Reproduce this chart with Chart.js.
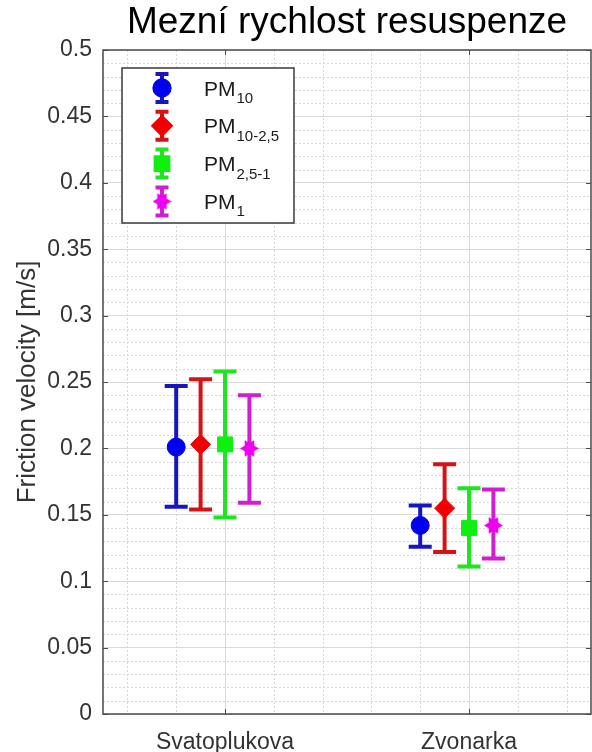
<!DOCTYPE html>
<html>
<head>
<meta charset="utf-8">
<script src="https://cdn.jsdelivr.net/npm/chart.js@4/dist/chart.umd.min.js"></script>
<style>
  html, body { margin: 0; padding: 0; background: #fff; overflow: hidden; }
  #wrap { width: 592px; height: 752px; position: relative; }
</style>
</head>
<body>
<div id="wrap"><canvas id="chart"></canvas></div>
<script>
// Measuring sites along the x axis
const sites = ['Svatoplukova', 'Zvonarka'];

// Particle fractions, legend shows "PM" with these as subscripts
const fractions = ['10', '10-2,5', '2,5-1', '1'];

// Threshold friction velocity [m/s]: mean and error bar ends per site
const pm10Mean    = [0.201, 0.142];
const pm10Low     = [0.156, 0.126];
const pm10High    = [0.247, 0.157];

const pm10_25Mean = [0.203, 0.155];
const pm10_25Low  = [0.154, 0.122];
const pm10_25High = [0.252, 0.188];

const pm25_1Mean  = [0.203, 0.140];
const pm25_1Low   = [0.148, 0.111];
const pm25_1High  = [0.258, 0.170];

const pm1Mean     = [0.200, 0.142];
const pm1Low      = [0.159, 0.117];
const pm1High     = [0.240, 0.169];

const series = [
    { mean: pm10Mean,    low: pm10Low,    high: pm10High },
    { mean: pm10_25Mean, low: pm10_25Low, high: pm10_25High },
    { mean: pm25_1Mean,  low: pm25_1Low,  high: pm25_1High },
    { mean: pm1Mean,     low: pm1Low,     high: pm1High }
];

// Styling
const FONT = '"Liberation Sans", Arial, Helvetica, sans-serif';
const offsets = [-0.2, -0.1, 0, 0.1];
const lineColors = ['#1616c0', '#d41414', '#1ee61e', '#d21ed2'];
const markerColors = ['#0000f0', '#f00000', '#10f010', '#f000f0'];

// six-pointed star marker, drawn once into a small canvas
function hexagram(size, color) {
    const c = document.createElement('canvas');
    c.width = c.height = size;
    const g = c.getContext('2d');
    const r = size / 2;
    g.fillStyle = color;
    [0, Math.PI / 3].forEach(start => {
        g.beginPath();
        for (let j = 0; j < 3; j++) {
            const a = start + j * 2 * Math.PI / 3;
            const px = r + Math.cos(a) * r, py = r + Math.sin(a) * r;
            if (j === 0) g.moveTo(px, py); else g.lineTo(px, py);
        }
        g.closePath();
        g.fill();
    });
    return c;
}

const markerStyles = ['circle', 'rectRot', 'rect', hexagram(19, markerColors[3])];
const markerRadius = [9, 10, 10.6, 9];

// dotted minor grid
const minorGrid = {
    id: 'minorGrid',
    beforeDatasetsDraw(chart) {
        const { ctx, chartArea: a, scales: { x, y } } = chart;
        ctx.save();
        ctx.strokeStyle = '#d6d6d6';
        ctx.lineWidth = 1;
        ctx.setLineDash([2, 2]);
        for (let k = 1; k <= 49; k++) {
            if (k % 5 === 0) continue;
            const py = Math.round(y.getPixelForValue(k / 100)) + 0.5;
            ctx.beginPath();
            ctx.moveTo(a.left, py);
            ctx.lineTo(a.right, py);
            ctx.stroke();
        }
        for (let k = 3; k <= 12; k++) {
            if (k % 5 === 0) continue;
            const px = Math.round(x.getPixelForValue(k / 5)) + 0.5;
            ctx.beginPath();
            ctx.moveTo(px, a.top);
            ctx.lineTo(px, a.bottom);
            ctx.stroke();
        }
        ctx.restore();
    }
};

// vertical error bars with caps, under the markers
const errorBars = {
    id: 'errorBars',
    beforeDatasetsDraw(chart) {
        const { ctx, scales: { y } } = chart;
        ctx.save();
        ctx.lineWidth = 4;
        ctx.lineCap = 'butt';
        chart.data.datasets.forEach((ds, k) => {
            const meta = chart.getDatasetMeta(k);
            ctx.strokeStyle = lineColors[k];
            meta.data.forEach((pt, i) => {
                const yl = y.getPixelForValue(ds.low[i]);
                const yh = y.getPixelForValue(ds.high[i]);
                ctx.beginPath();
                ctx.moveTo(pt.x, yl);
                ctx.lineTo(pt.x, yh);
                ctx.moveTo(pt.x - 11.5, yl);
                ctx.lineTo(pt.x + 11.5, yl);
                ctx.moveTo(pt.x - 11.5, yh);
                ctx.lineTo(pt.x + 11.5, yh);
                ctx.stroke();
            });
        });
        ctx.restore();
    }
};

// axes box with inward ticks on all four sides
const frame = {
    id: 'frame',
    afterDatasetsDraw(chart) {
        const { ctx, chartArea: a, scales: { x, y } } = chart;
        ctx.save();
        ctx.strokeStyle = '#4a4a4a';
        ctx.lineWidth = 1.5;
        ctx.strokeRect(a.left, a.top, a.right - a.left, a.bottom - a.top);
        ctx.lineWidth = 1;
        ctx.beginPath();
        y.ticks.forEach(t => {
            const py = Math.round(y.getPixelForValue(t.value)) + 0.5;
            ctx.moveTo(a.left, py); ctx.lineTo(a.left + 5, py);
            ctx.moveTo(a.right, py); ctx.lineTo(a.right - 5, py);
        });
        x.ticks.forEach(t => {
            const px = Math.round(x.getPixelForValue(t.value)) + 0.5;
            ctx.moveTo(px, a.bottom); ctx.lineTo(px, a.bottom - 5);
            ctx.moveTo(px, a.top); ctx.lineTo(px, a.top + 5);
        });
        ctx.stroke();
        ctx.restore();
    }
};

// legend box with errorbar icons and subscripted labels
const pmLegend = {
    id: 'pmLegend',
    afterDraw(chart) {
        const ctx = chart.ctx;
        const box = { left: 122, top: 68, right: 294, bottom: 223 };
        ctx.save();
        ctx.fillStyle = '#fff';
        ctx.fillRect(box.left, box.top, box.right - box.left, box.bottom - box.top);
        ctx.strokeStyle = '#3a3a3a';
        ctx.lineWidth = 1.5;
        ctx.strokeRect(box.left, box.top, box.right - box.left, box.bottom - box.top);
        chart.data.datasets.forEach((ds, k) => {
            const cy = box.top + 20 + k * 37.8;
            const ix = 162;
            ctx.strokeStyle = lineColors[k];
            ctx.lineWidth = 4;
            ctx.beginPath();
            ctx.moveTo(ix, cy - 14); ctx.lineTo(ix, cy + 14);
            ctx.moveTo(ix - 6.5, cy - 14); ctx.lineTo(ix + 6.5, cy - 14);
            ctx.moveTo(ix - 6.5, cy + 14); ctx.lineTo(ix + 6.5, cy + 14);
            ctx.stroke();
            ctx.fillStyle = markerColors[k];
            ctx.strokeStyle = markerColors[k];
            Chart.helpers.drawPoint(ctx, {
                pointStyle: markerStyles[k],
                radius: markerRadius[k] * 0.85,
                rotation: 0,
                borderWidth: 1
            }, ix, cy);
            ctx.fillStyle = '#1a1a1a';
            ctx.textBaseline = 'alphabetic';
            ctx.textAlign = 'left';
            ctx.font = '21px ' + FONT;
            ctx.fillText('PM', 204, cy + 7.5);
            const w = ctx.measureText('PM').width;
            ctx.font = '15px ' + FONT;
            ctx.fillText(fractions[k], 204 + w + 1, cy + 15);
        });
        ctx.restore();
    }
};

new Chart(document.getElementById('chart'), {
    type: 'scatter',
    data: {
        datasets: series.map((s, k) => ({
            label: 'PM' + fractions[k],
            data: s.mean.map((v, i) => ({ x: i + 1 + offsets[k], y: v })),
            low: s.low,
            high: s.high,
            pointStyle: markerStyles[k],
            pointRadius: markerRadius[k],
            pointHoverRadius: markerRadius[k],
            pointBorderWidth: 1,
            backgroundColor: markerColors[k],
            borderColor: markerColors[k]
        }))
    },
    options: {
        responsive: true,
        maintainAspectRatio: false,
        animation: false,
        layout: { autoPadding: false, padding: { left: 0, right: 1, top: 0, bottom: 0 } },
        plugins: {
            legend: { display: false },
            tooltip: { enabled: false },
            title: {
                display: true,
                fullSize: false,
                text: 'Mezní rychlost resuspenze',
                color: '#000',
                font: { family: FONT, size: 37, weight: 'normal', lineHeight: 1.2 },
                padding: { top: 1, bottom: 4.6 }
            }
        },
        scales: {
            x: {
                type: 'linear',
                min: 0.5,
                max: 2.5,
                afterBuildTicks(scale) {
                    scale.ticks = sites.map((s, i) => ({ value: i + 1 }));
                },
                afterFit(scale) {
                    scale.height = 38;
                    scale.paddingLeft = 0;
                    scale.paddingRight = 0;
                },
                ticks: {
                    color: '#333',
                    font: { family: FONT, size: 23 },
                    padding: 15,
                    maxRotation: 0,
                    callback: v => sites[v - 1]
                },
                grid: { color: '#d9d9d9', lineWidth: 1, drawTicks: false },
                border: { display: false }
            },
            y: {
                min: 0,
                max: 0.5,
                afterFit(scale) {
                    scale.width = 103;
                    scale.paddingTop = 0;
                    scale.paddingBottom = 0;
                },
                ticks: {
                    stepSize: 0.05,
                    color: '#333',
                    font: { family: FONT, size: 23 },
                    padding: 11,
                    callback: v => String(+v.toFixed(2))
                },
                grid: { color: '#d9d9d9', lineWidth: 1, drawTicks: false },
                border: { display: false },
                title: {
                    display: true,
                    text: 'Friction velocity [m/s]',
                    color: '#333',
                    font: { family: FONT, size: 26 },
                    padding: { top: 12, bottom: 0 }
                }
            }
        }
    },
    plugins: [minorGrid, errorBars, frame, pmLegend]
});
</script>
</body>
</html>
